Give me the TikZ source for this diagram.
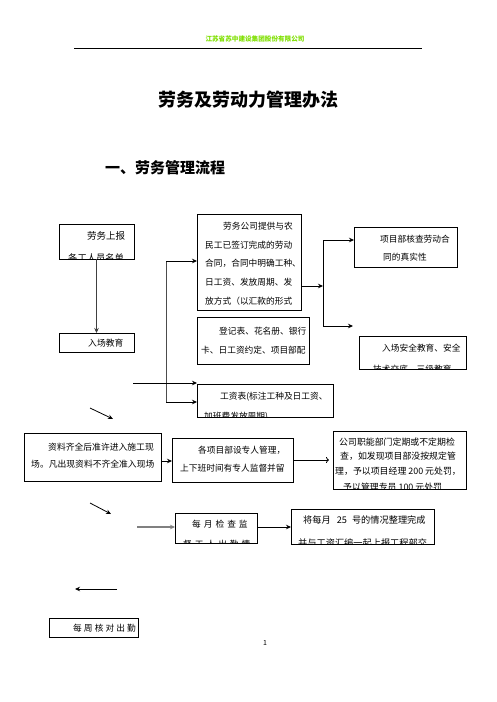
\documentclass[tikz,border=0pt]{standalone}
\usepackage{fontspec}
\setmainfont{Noto Sans CJK SC}
\usetikzlibrary{arrows.meta}
\definecolor{hdr}{HTML}{7FE000}
\begin{document}
\begin{tikzpicture}[x=1pt,y=-1pt,
  box/.style={draw, line width=0.8pt, inner sep=0pt, outer sep=0pt, anchor=north west},
  txt/.style={inner sep=0pt, anchor=west, font=\fontsize{8.7}{10}\selectfont},
  arr/.style={line width=0.8pt, -{Stealth[length=5pt,width=4.5pt]}},
  oarr/.style={line width=0.8pt, -{To[length=3pt,width=6pt]}}]
\useasboundingbox[fill=white] (0,0) rectangle (496,702);

% header
\node[inner sep=0pt, text=hdr, font=\fontsize{6.6}{8}\bfseries\selectfont] (hdrtxt) at (255,39) {江苏省苏中建设集团股份有限公司};
\coordinate (hl1) at (74,48); \coordinate (hl2) at (422,48);
\draw[line width=0.8pt] (hl1) -- (hl2);

\node[inner sep=0pt, font=\fontsize{18}{20}\bfseries\selectfont] (title) at (248,100) {劳务及劳动力管理办法};
\node[inner sep=0pt, anchor=west, font=\fontsize{15}{18}\bfseries\selectfont] (sec) at (105,168) {一、劳务管理流程};

% boxes
\node[box, minimum width=75pt, minimum height=35pt] (b1) at (59,224) {};
\node[box, minimum width=75pt, minimum height=19pt] (b2) at (59,333) {};
\node[box, minimum width=104pt, minimum height=96pt] (b3) at (197,214) {};
\node[box, minimum width=112pt, minimum height=47pt] (b4) at (197,317) {};
\node[box, minimum width=136pt, minimum height=33pt] (b5) at (197,384) {};
\node[box, minimum width=103pt, minimum height=40pt] (b6) at (354,227) {};
\node[box, minimum width=107pt, minimum height=33pt] (b7) at (359,336) {};
\node[box, minimum width=137pt, minimum height=48pt] (b8) at (24,433) {};
\node[box, minimum width=121pt, minimum height=44pt] (b9) at (172,438) {};
\node[box, minimum width=133pt, minimum height=58pt] (b10) at (333,431) {};
\node[box, minimum width=82pt, minimum height=30pt] (b11) at (175,513) {};
\node[box, minimum width=143pt, minimum height=35pt] (b12) at (291,509) {};
\node[box, minimum width=89pt, minimum height=19pt] (b13) at (49,618) {};

% texts
\begin{scope}
\clip (b1.north west) rectangle (b1.south east);
\node[txt, font=\fontsize{9.5}{10}\selectfont] (t1a) at (87,236) {劳务上报};
\node[txt, font=\fontsize{9.3}{10}\selectfont] (t1b) at (68,258) {各工人员名单};
\end{scope}
\node[txt, font=\fontsize{8.8}{10}\selectfont] (t2a) at (88,343) {入场教育};

\node[txt] (t3a) at (223,226) {劳务公司提供与农};
\node[txt] (t3b) at (205,244.7) {民工已签订完成的劳动};
\node[txt] (t3c) at (205,263.3) {合同，合同中明确工种、};
\node[txt] (t3d) at (205,282) {日工资、发放周期、发};
\node[txt] (t3e) at (205,300.7) {放方式（以汇款的形式};

\node[txt] (t4a) at (219,331) {登记表、花名册、银行};
\node[txt] (t4b) at (201,350) {卡、日工资约定、项目部配};

\begin{scope}
\clip (b5.north west) rectangle (b5.south east);
\node[txt] (t5a) at (220,397) {工资表(标注工种及日工资、};
\node[txt] (t5b) at (204,416.5) {加班费发放周期)};
\end{scope}

\node[txt] (t6a) at (380,239) {项目部核查劳动合};
\node[txt] (t6b) at (383,257) {同的真实性};

\begin{scope}
\clip (b7.north west) rectangle (b7.south east);
\node[txt] (t7a) at (382,348) {入场安全教育、安全};
\node[txt] (t7b) at (373,369) {技术交底、三级教育};
\end{scope}

\node[txt, font=\fontsize{8.8}{10}\selectfont] (t8a) at (48,447) {资料齐全后准许进入施工现};
\node[txt, font=\fontsize{8.8}{10}\selectfont] (t8b) at (31,464) {场。凡出现资料不齐全准入现场};

\node[txt] (t9a) at (198,450) {各项目部设专人管理，};
\node[txt] (t9b) at (180,468.5) {上下班时间有专人监督并留};

\begin{scope}
\clip (b10.north west) rectangle (b10.south east);
\node[txt, font=\fontsize{8.9}{10}\selectfont] (t10a) at (339,442) {公司职能部门定期或不定期检};
\node[txt, font=\fontsize{8.9}{10}\selectfont] (t10b) at (340,456.5) {查，如发现项目部没按规定管};
\node[txt, font=\fontsize{8.9}{10}\selectfont] (t10c) at (335,471) {理，予以项目经理 200 元处罚，};
\node[txt, font=\fontsize{8.9}{10}\selectfont] (t10d) at (343,487.5) {予以管理专员 100 元处罚};
\end{scope}

\begin{scope}
\clip (b11.north west) rectangle (b11.south east);
\node[txt] (t11a) at (192,524) {每\hspace{3pt}月\hspace{3pt}检\hspace{3pt}查\hspace{3pt}监};
\node[txt] (t11b) at (183,544) {督\hspace{3pt}工\hspace{3pt}人\hspace{3pt}出\hspace{3pt}勤\hspace{3pt}情};
\end{scope}

\begin{scope}
\clip (b12.north west) rectangle (b12.south east);
\node[txt, font=\fontsize{9.2}{10}\selectfont] (t12a) at (303,520) {将每月\hspace{6pt}25\hspace{5pt}号的情况整理完成};
\node[txt, font=\fontsize{9.2}{10}\selectfont] (t12b) at (298,543) {并与工资汇编一起上报工程部交};
\end{scope}

\node[txt] (t13a) at (73,628) {每\hspace{2.1pt}周\hspace{2.1pt}核\hspace{2.1pt}对\hspace{2.1pt}出\hspace{2.1pt}勤};

\node[inner sep=0pt, font=\fontsize{7}{8}\selectfont] (pg) at (265,643) {1};

% connectors
\draw[arr, line width=1.3pt, draw=black!75] (b1.south) -- (b2.north);
\coordinate (v1) at (166,261); \coordinate (v2) at (166,402);
\draw[line width=1pt, black!70] (v1) -- (v2);
\draw[arr] (v1) -- (v1 -| b3.west);
\draw[arr] (v2) -- (v2 -| b5.west);
\coordinate (h0) at (133,383);
\draw[arr] (h0) -- (h0 -| b5.west);

\coordinate (r1) at (323,286);
\draw[arr] (b3.east |- r1) -- (r1);
\coordinate (r2) at (323,240); \coordinate (r3) at (323,326);
\draw[line width=0.8pt] (r2) -- (r3);
\draw[arr] (r2) -- (r2 -| b6.west);
\coordinate (r4) at (353,326);
\draw[arr] (r3) -- (r4);

\coordinate (d1a) at (90,408); \coordinate (d1b) at (113,419);
\draw[arr] (d1a) -- (d1b);

\coordinate (m1) at (0,461);
\draw[arr] (b8.east |- m1) -- (b9.west |- m1);
\coordinate (m2) at (329,460);
\draw[oarr] (b9.east |- m2) -- (m2);

\coordinate (d2a) at (90,503); \coordinate (d2b) at (111,514);
\draw[arr] (d2a) -- (d2b);

\coordinate (g0) at (137,527);
\draw[arr, draw=gray, line width=2.2pt] (g0) -- (g0 -| b11.west);
\draw[arr] (b11.east |- g0) -- (b12.west |- g0);

\coordinate (l0) at (117,589); \coordinate (l1) at (75,589);
\draw[arr] (l0) -- (l1);
\end{tikzpicture}
\end{document}
